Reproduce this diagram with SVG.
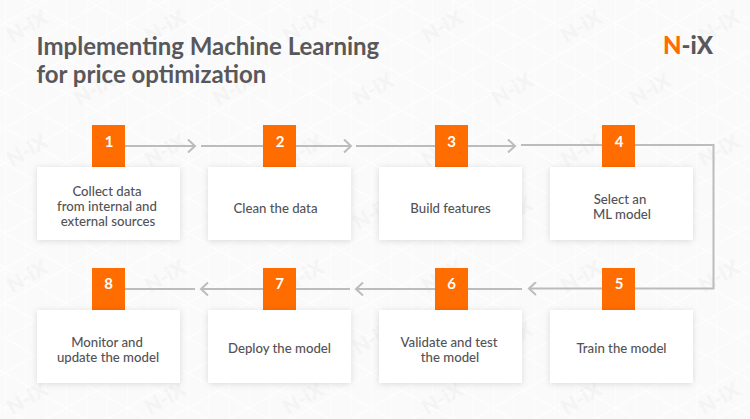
<svg xmlns="http://www.w3.org/2000/svg" width="750" height="419" viewBox="0 0 750 419">
<style>
text{font-family:Lato,"Open Sans","Liberation Sans",sans-serif}
.card{fill:#fff;filter:url(#sh)}
.sq{fill:#ff6c00}
.num{font-size:15px;font-weight:700;fill:#fff;text-anchor:middle}
.lbl{font-size:13.2px;font-weight:500;fill:#535356;text-anchor:middle}
.title{font-size:24px;font-weight:700;fill:#58585b}
.wm{font-size:20.5px;font-weight:900;fill:#f4f4f4;text-anchor:middle}
.con{fill:none;stroke:#bcbcbc;stroke-width:2}
.head{fill:none;stroke:#bcbcbc;stroke-width:2}
</style>
<defs>
<filter id="sh" x="-15%" y="-20%" width="130%" height="145%"><feDropShadow dx="0" dy="1" stdDeviation="3" flood-color="#000" flood-opacity="0.13"/></filter>
<pattern id="grid" width="61" height="35" patternUnits="userSpaceOnUse" x="5" y="23">
<path d="M0 0L61 35M0 35L61 0" fill="none" stroke="#ffffff" stroke-width="1"/>
<path d="M0.500 0V35M20.800 0V35M41.100 0V35" fill="none" stroke="#fdfdfd" stroke-width="1"/>
</pattern>
<marker id="ah" markerWidth="10" markerHeight="14" refX="8" refY="7" orient="auto" markerUnits="userSpaceOnUse"><path d="M1 0.5L8 7L1 13.5" class="head"/></marker>
</defs>
<rect width="750" height="419" fill="#fafafa"/>
<rect width="750" height="419" fill="url(#grid)"/>
<g id="watermarks">
<text class="wm" y="7.500" transform="translate(27 26) rotate(-30)">N-iX</text>
<text class="wm" y="7.500" transform="translate(165 26) rotate(-30)">N-iX</text>
<text class="wm" y="7.500" transform="translate(303 26) rotate(-30)">N-iX</text>
<text class="wm" y="7.500" transform="translate(442 26) rotate(-30)">N-iX</text>
<text class="wm" y="7.500" transform="translate(581 26) rotate(-30)">N-iX</text>
<text class="wm" y="7.500" transform="translate(719 26) rotate(-30)">N-iX</text>
<text class="wm" y="7.500" transform="translate(94 89) rotate(-30)">N-iX</text>
<text class="wm" y="7.500" transform="translate(233 89) rotate(-30)">N-iX</text>
<text class="wm" y="7.500" transform="translate(373 89) rotate(-30)">N-iX</text>
<text class="wm" y="7.500" transform="translate(512 89) rotate(-30)">N-iX</text>
<text class="wm" y="7.500" transform="translate(650 89) rotate(-30)">N-iX</text>
<text class="wm" y="7.500" transform="translate(27 150) rotate(-30)">N-iX</text>
<text class="wm" y="7.500" transform="translate(165 150) rotate(-30)">N-iX</text>
<text class="wm" y="7.500" transform="translate(303 150) rotate(-30)">N-iX</text>
<text class="wm" y="7.500" transform="translate(442 150) rotate(-30)">N-iX</text>
<text class="wm" y="7.500" transform="translate(581 150) rotate(-30)">N-iX</text>
<text class="wm" y="7.500" transform="translate(719 150) rotate(-30)">N-iX</text>
<text class="wm" y="7.500" transform="translate(94 213) rotate(-30)">N-iX</text>
<text class="wm" y="7.500" transform="translate(233 213) rotate(-30)">N-iX</text>
<text class="wm" y="7.500" transform="translate(373 213) rotate(-30)">N-iX</text>
<text class="wm" y="7.500" transform="translate(512 213) rotate(-30)">N-iX</text>
<text class="wm" y="7.500" transform="translate(650 213) rotate(-30)">N-iX</text>
<text class="wm" y="7.500" transform="translate(27 276) rotate(-30)">N-iX</text>
<text class="wm" y="7.500" transform="translate(165 276) rotate(-30)">N-iX</text>
<text class="wm" y="7.500" transform="translate(303 276) rotate(-30)">N-iX</text>
<text class="wm" y="7.500" transform="translate(442 276) rotate(-30)">N-iX</text>
<text class="wm" y="7.500" transform="translate(581 276) rotate(-30)">N-iX</text>
<text class="wm" y="7.500" transform="translate(719 276) rotate(-30)">N-iX</text>
<text class="wm" y="7.500" transform="translate(94 338) rotate(-30)">N-iX</text>
<text class="wm" y="7.500" transform="translate(233 338) rotate(-30)">N-iX</text>
<text class="wm" y="7.500" transform="translate(373 338) rotate(-30)">N-iX</text>
<text class="wm" y="7.500" transform="translate(512 338) rotate(-30)">N-iX</text>
<text class="wm" y="7.500" transform="translate(650 338) rotate(-30)">N-iX</text>
<text class="wm" y="7.500" transform="translate(27 398) rotate(-30)">N-iX</text>
<text class="wm" y="7.500" transform="translate(165 398) rotate(-30)">N-iX</text>
<text class="wm" y="7.500" transform="translate(303 398) rotate(-30)">N-iX</text>
<text class="wm" y="7.500" transform="translate(442 398) rotate(-30)">N-iX</text>
<text class="wm" y="7.500" transform="translate(581 398) rotate(-30)">N-iX</text>
<text class="wm" y="7.500" transform="translate(719 398) rotate(-30)">N-iX</text>
</g>
<g id="title">
<text class="title" x="36.500" y="55">Implementing Machine Learning</text>
<text class="title" x="36.500" y="83">for price optimization</text>
</g>
<g id="logo">
<text x="663" y="54" font-size="24" font-weight="900"><tspan fill="#ff6c00">N</tspan><tspan fill="#58585b">-iX</tspan></text>
</g>
<g id="connectors">
<path class="con" d="M125 146H195" marker-end="url(#ah)"/>
<path class="con" d="M201 146H351" marker-end="url(#ah)"/>
<path class="con" d="M356 146H515" marker-end="url(#ah)"/>
<path class="con" d="M521 145H713.500V288.500H529" marker-end="url(#ah)"/>
<path class="con" d="M522 289H356" marker-end="url(#ah)"/>
<path class="con" d="M350 289H201" marker-end="url(#ah)"/>
<path class="con" d="M195 289H125"/>
</g>
<g id="node1"><rect class="sq" x="92" y="125" width="33" height="43"/><rect class="card" x="37" y="167" width="143" height="73"/><text class="num" x="109" y="147">1</text><text class="lbl" x="107" y="196">Collect data</text><text class="lbl" x="107" y="211">from internal and</text><text class="lbl" x="108" y="226">external sources</text></g>
<g id="node2"><rect class="sq" x="263" y="125" width="33" height="43"/><rect class="card" x="208" y="167" width="143" height="73"/><text class="num" x="280" y="147">2</text><text class="lbl" x="275.500" y="213">Clean the data</text></g>
<g id="node3"><rect class="sq" x="435" y="125" width="33" height="43"/><rect class="card" x="379" y="167" width="143" height="73"/><text class="num" x="451.500" y="147">3</text><text class="lbl" x="450.500" y="213">Build features</text></g>
<g id="node4"><rect class="sq" x="602" y="125" width="33" height="43"/><rect class="card" x="550" y="167" width="143" height="73"/><text class="num" x="619" y="147">4</text><text class="lbl" x="620" y="204">Select an</text><text class="lbl" x="622" y="219">ML model</text></g>
<g id="node5"><rect class="sq" x="602" y="268" width="33" height="43"/><rect class="card" x="550" y="310" width="143" height="73"/><text class="num" x="619" y="289">5</text><text class="lbl" x="621.500" y="353">Train the model</text></g>
<g id="node6"><rect class="sq" x="435" y="268" width="33" height="43"/><rect class="card" x="379" y="310" width="143" height="73"/><text class="num" x="451.500" y="289">6</text><text class="lbl" x="449" y="347">Validate and test</text><text class="lbl" x="450" y="362">the model</text></g>
<g id="node7"><rect class="sq" x="263" y="268" width="33" height="43"/><rect class="card" x="208" y="310" width="143" height="73"/><text class="num" x="279.500" y="289">7</text><text class="lbl" x="279.500" y="353">Deploy the model</text></g>
<g id="node8"><rect class="sq" x="92" y="268" width="33" height="43"/><rect class="card" x="37" y="310" width="143" height="73"/><text class="num" x="108.500" y="289">8</text><text class="lbl" x="107" y="347">Monitor and</text><text class="lbl" x="108" y="362">update the model</text></g>
</svg>
